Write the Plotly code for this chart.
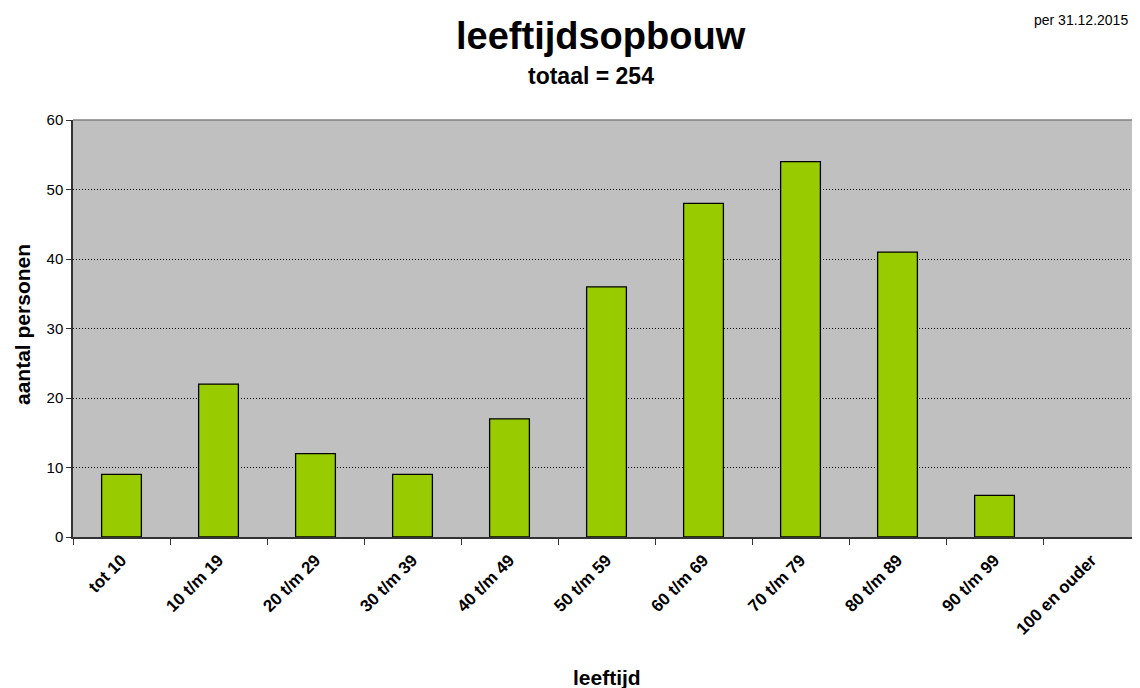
import plotly.graph_objects as go

categories = ["tot 10", "10 t/m 19", "20 t/m 29", "30 t/m 39", "40 t/m 49",
              "50 t/m 59", "60 t/m 69", "70 t/m 79", "80 t/m 89", "90 t/m 99",
              "100 en ouder"]
values = [9, 22, 12, 9, 17, 36, 48, 54, 41, 6, 0]
y_ticks = [0, 10, 20, 30, 40, 50, 60]

FONT = "Liberation Sans, Arial, sans-serif"

# page body has an 8px margin, so the figure is shifted by 8px
OFF = 8
W, H = 1140 - OFF, 688 - OFF
L, R, T, B = 73 - OFF, 0, 120 - OFF, 151
ph = H - T - B
pw = W - L - R

def py(px):
    return (H - B - (px - OFF)) / ph

def pxx(px):
    return ((px - OFF) - L) / pw

fig = go.Figure()
fig.add_trace(go.Bar(
    x=categories, y=values,
    marker=dict(color="#99CC00",
                line=dict(color="#000000",
                          width=[1.3 if v > 0 else 0 for v in values])),
    width=0.41,
))

fig.update_layout(
    width=W, height=H,
    margin=dict(l=L, r=R, t=T, b=B),
    paper_bgcolor="white",
    plot_bgcolor="#C0C0C0",
    showlegend=False,
    font=dict(family=FONT, color="#000000"),
    xaxis=dict(
        type="category",
        tickangle=-45,
        tickfont=dict(size=17, family=FONT, color="#000000", weight="bold"),
        ticks="outside", ticklen=6, tickcolor="#333333",
        tickson="boundaries",
        ticklabelstandoff=5,
        showline=True, linecolor="#333333", linewidth=1.5,
        showgrid=False,
        range=[-0.5, len(categories) - 0.5],
    ),
    yaxis=dict(
        range=[0, 60],
        tickvals=y_ticks,
        tickfont=dict(size=15, family=FONT, color="#000000"),
        ticks="outside", ticklen=5, tickcolor="#333333",
        showline=True, linecolor="#333333", linewidth=1.5,
        showgrid=True, gridcolor="#000000", gridwidth=1, griddash="1px,2px",
        zeroline=False,
    ),
    shapes=[
        dict(type="line", xref="paper", yref="paper", x0=0, x1=1, y0=1, y1=1,
             line=dict(color="#808080", width=1.5)),
    ],
    annotations=[
        dict(text="<b>leeftijdsopbouw</b>", xref="paper", yref="paper",
             x=pxx(601), y=py(36), showarrow=False,
             font=dict(size=38, family=FONT), xanchor="center", yanchor="middle"),
        dict(text="<b>totaal = 254</b>", xref="paper", yref="paper",
             x=pxx(591), y=py(76), showarrow=False,
             font=dict(size=23, family=FONT), xanchor="center", yanchor="middle"),
        dict(text="per 31.12.2015", xref="paper", yref="paper",
             x=pxx(1130), y=py(20), showarrow=False,
             font=dict(size=14, family=FONT), xanchor="right", yanchor="middle"),
        dict(text="<b>leeftijd</b>", xref="paper", yref="paper",
             x=pxx(607), y=py(677), showarrow=False,
             font=dict(size=21, family=FONT), xanchor="center", yanchor="middle"),
        dict(text="<b>aantal personen</b>", xref="paper", yref="paper",
             x=pxx(22), y=py(325), showarrow=False, textangle=-90,
             font=dict(size=21, family=FONT), xanchor="center", yanchor="middle"),
    ],
)

fig.write_html("out.html")
